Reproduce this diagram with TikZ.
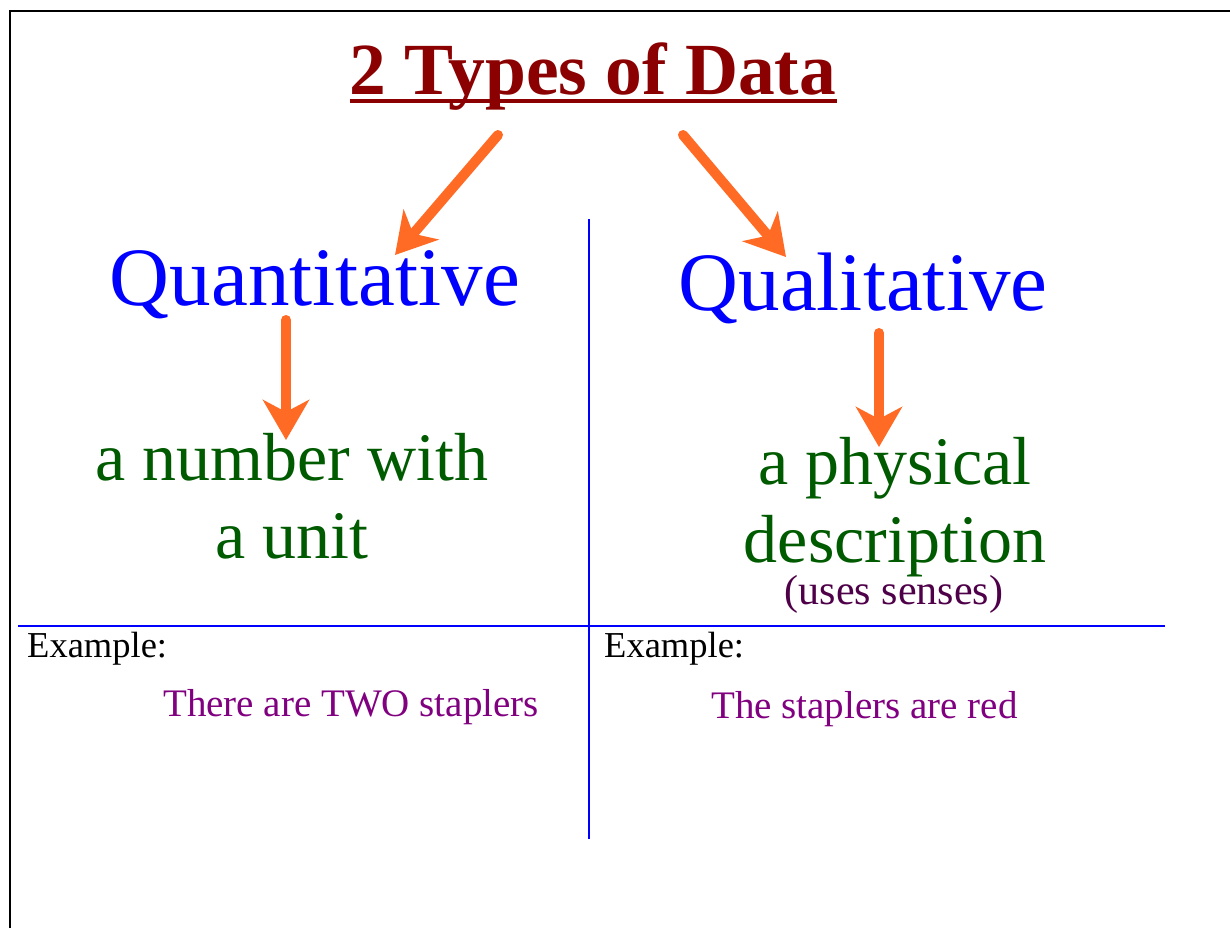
\documentclass[tikz,border=0pt]{standalone}
\usepackage{fontspec}
\setmainfont{Liberation Serif}
\usetikzlibrary{arrows.meta}
\definecolor{titlered}{HTML}{8B0000}
\definecolor{typeblue}{HTML}{0000FF}
\definecolor{defgreen}{HTML}{005A00}
\definecolor{senseplum}{HTML}{4E0048}
\definecolor{exviolet}{HTML}{800080}
\definecolor{arroworange}{HTML}{FF6A24}

\begin{document}
\begin{tikzpicture}[
  x=1pt, y=-1pt,
  every node/.style={inner sep=0pt, anchor=base},
  typelabel/.style={text=typeblue, font=\fontsize{83}{95}\selectfont},
  deflabel/.style={text=defgreen, align=center, font=\fontsize{68}{78}\selectfont},
  exlabel/.style={text=black, anchor=base west, font=\fontsize{36.5}{42}\selectfont},
  exitem/.style={text=exviolet, anchor=base west, font=\fontsize{39}{45}\selectfont},
  bigarrow/.style={
    draw=arroworange,
    line width=10pt,
    line cap=round,
    -{Stealth[length=40pt, width=46pt, inset=12pt]}
  },
  divider/.style={draw=typeblue, line width=1.5pt}
]

  \useasboundingbox (0,0) rectangle (1230,928);

  % --- Frame (top and left edges only) ---
  \draw[black, line width=2.5pt] (10,928) -- (10,11) -- (1230,11);

  % --- Title ---
  \node[text=titlered, font=\fontsize{73.5}{80}\selectfont\bfseries]
       (title) at (593,95) {2 Types of Data};
  \draw[titlered, line width=4pt]
       ([yshift=-6.5pt]title.base west) -- ([yshift=-6.5pt]title.base east);

  % --- The two types ---
  \node[typelabel] (quant) at (315,305) {Quantitative};
  \node[typelabel] (qual)  at (863,310) {Qualitative};

  % --- What each one is (base = last line) ---
  \node[deflabel] (quantdef) at (292,558) {a number with\\a unit};
  \node[deflabel] (qualdef)  at (895,562) {a physical\\description};
  \node[text=senseplum, font=\fontsize{42}{48}\selectfont]
       (senses) at (894,604) {(uses senses)};

  % --- Dividing lines ---
  \draw[divider] (589,219) -- (589,839);
  \draw[divider] (18,626) -- (1165,626);

  % --- Examples ---
  \node[exlabel] (quantex)  at (27,657)  {Example:};
  \node[exlabel] (qualex)   at (604,657) {Example:};
  \node[exitem]  (quantitem) at (163,716) {There are TWO staplers};
  \node[exitem]  (qualitem)  at (711,718) {The staplers are red};

  % --- Arrows ---
  \coordinate (tleft)  at (498,135);
  \coordinate (tright) at (683,135);
  \coordinate (qleft)  at (395,255);
  \coordinate (qright) at (786,257);
  \coordinate (dleft)  at (286,440);
  \coordinate (dright) at (879,447);
  \draw[bigarrow] (tleft)  -- (qleft);
  \draw[bigarrow] (tright) -- (qright);
  \draw[bigarrow] ([yshift=-15pt]quant.base -| dleft) -- (dleft);
  \draw[bigarrow] ([yshift=-23pt]qual.base -| dright) -- (dright);

\end{tikzpicture}
\end{document}
